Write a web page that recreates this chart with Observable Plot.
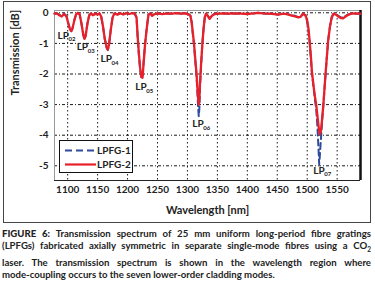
<!DOCTYPE html>
<html><head><meta charset="utf-8">
<script src="https://cdn.jsdelivr.net/npm/d3@7"></script>
<script src="https://cdn.jsdelivr.net/npm/@observablehq/plot@0.6"></script>
<style>
body{margin:0;background:#fff;width:375px;height:281px;overflow:hidden;position:relative;font-family:Lato,sans-serif;color:#222}
#frame{position:absolute;left:3px;top:1px;width:366px;height:220px;border:1px solid #444;}
#chart{position:absolute;left:0;top:0}
#legend{position:absolute;left:59px;top:140px;width:72px;height:31px;border:1px solid #111;background:#fff;font-size:10px;font-weight:700}
#caption{position:absolute;left:2px;top:228px;width:369px;font-size:9.6px;line-height:12.4px;font-weight:700;color:#222}
.j{text-align:justify;text-align-last:justify;white-space:nowrap}
.l{white-space:nowrap}
</style></head>
<body>
<div id="frame"></div>
<div id="chart"></div>
<div id="legend"></div>
<div id="caption">
<div class="j"><b style="font-weight:900">FIGURE 6:</b> Transmission spectrum of 25 mm uniform long-period fibre gratings</div>
<div class="j">(LPFGs) fabricated axially symmetric in separate single-mode fibres using a CO<sub style="font-size:6.5px">2</sub></div>
<div class="j">laser. The transmission spectrum is shown in the wavelength region where</div>
<div class="l">mode-coupling occurs to the seven lower-order cladding modes.</div>
</div>
<script>
const wavelength = [1078,1082,1086,1090,1094,1098,1101,1104,1106,1108,1111,1114,1117,1120,1123,1126,1128,1130,1133,1136,1139,1142,1146,1150,1153,1156,1159,1162,1165,1167,1169,1172,1175,1178,1183,1188,1193,1198,1203,1208,1212,1215,1217,1219,1221,1223,1225,1227,1229,1231,1233,1235,1238,1241,1244,1250,1258,1266,1274,1282,1290,1297,1302,1305,1307,1309,1311,1313,1315,1317,1318,1319,1320,1321,1323,1325,1327,1329,1331,1334,1337,1340,1344,1350,1360,1370,1380,1390,1400,1410,1418,1426,1435,1445,1452,1460,1468,1474,1480,1485,1489,1493,1497,1500,1502,1504,1506,1508,1511,1513,1515,1517,1519,1520,1521,1523,1525,1527,1529,1531,1533,1535,1538,1541,1544,1548,1552,1556,1560,1564,1568,1574,1580,1585,1589];
const lpfg2 = [-0.03,-0.02,-0.08,-0.12,-0.04,-0.12,-0.35,-0.55,-0.6,-0.52,-0.25,-0.05,0,-0.05,-0.35,-0.7,-0.85,-0.75,-0.35,-0.08,-0.02,-0.08,-0.03,-0.06,-0.02,-0.12,-0.45,-0.85,-1.12,-1.2,-1.05,-0.55,-0.15,-0.02,-0.06,-0.02,-0.05,-0.01,-0.04,-0.01,-0.03,-0.15,-0.8,-1.35,-1.8,-2.1,-2.12,-1.6,-1.1,-0.7,-0.35,-0.06,-0.02,-0.1,-0.05,-0.02,-0.04,-0.02,-0.03,-0.01,-0.03,-0.02,-0.05,-0.1,-0.3,-0.65,-1.0,-1.5,-1.95,-2.55,-2.85,-3.0,-2.8,-2.3,-1.6,-1.0,-0.5,-0.15,-0.03,-0.1,-0.2,-0.12,-0.05,-0.03,-0.02,-0.03,-0.02,-0.03,-0.04,-0.02,0,-0.02,-0.03,-0.04,-0.06,-0.03,-0.05,-0.09,-0.12,-0.15,-0.13,-0.03,-0.08,-0.25,-0.5,-0.9,-1.4,-1.95,-2.45,-2.75,-3.0,-3.35,-3.7,-3.85,-3.97,-3.85,-3.45,-3.0,-2.45,-1.9,-1.4,-0.9,-0.45,-0.15,-0.03,-0.06,-0.12,-0.17,-0.18,-0.12,-0.07,-0.03,-0.02,-0.03,-0.03];
const lpfg1 = [-0.02,-0.02,-0.06,-0.1,-0.03,-0.1,-0.33,-0.55,-0.6,-0.5,-0.25,-0.05,-0.01,-0.05,-0.35,-0.72,-0.88,-0.75,-0.35,-0.08,-0.02,-0.08,-0.03,-0.05,-0.02,-0.12,-0.45,-0.87,-1.15,-1.22,-1.05,-0.55,-0.15,-0.02,-0.05,-0.02,-0.05,-0.01,-0.04,-0.01,-0.03,-0.15,-0.85,-1.4,-1.85,-2.12,-2.1,-1.55,-1.05,-0.68,-0.35,-0.06,-0.02,-0.08,-0.05,-0.02,-0.04,-0.02,-0.03,-0.01,-0.03,-0.02,-0.05,-0.1,-0.3,-0.7,-1.05,-1.55,-2.0,-2.75,-3.15,-3.38,-3.1,-2.45,-1.65,-1.0,-0.5,-0.15,-0.03,-0.1,-0.18,-0.12,-0.05,-0.03,-0.02,-0.03,-0.02,-0.03,-0.04,-0.02,0,-0.02,-0.03,-0.04,-0.06,-0.03,-0.05,-0.08,-0.1,-0.14,-0.12,-0.03,-0.08,-0.3,-0.55,-0.95,-1.45,-2.0,-2.5,-2.85,-3.15,-3.7,-4.5,-4.95,-4.7,-4.1,-3.5,-3.0,-2.45,-1.9,-1.4,-0.9,-0.45,-0.13,-0.03,-0.05,-0.1,-0.15,-0.16,-0.1,-0.06,-0.03,-0.02,-0.03,-0.03];
const xTicks = [1100,1150,1200,1250,1300,1350,1400,1450,1500,1550];
const yTicks = [0,-1,-2,-3,-4,-5];
const modeNames = ["02","03","04","05","06","07"];
const modeLabelX = [1083,1115,1155,1213,1308,1510];
const modeLabelY = [-0.74,-1.12,-1.51,-2.42,-3.63,-5.15];
const seriesNames = ["LPFG-1","LPFG-2"];
const seriesColors = ["#2f4b9b","#e8202a"];

const d1 = wavelength.map((w,i)=>({w, v:lpfg1[i]}));
const d2 = wavelength.map((w,i)=>({w, v:lpfg2[i]}));
const modes = modeNames.map((n,i)=>({n, x:modeLabelX[i], y:modeLabelY[i]}));
const xDom = [1078,1589], yDom = [-5.48,0.075];

const plot = Plot.plot({
  width:375, height:224,
  marginLeft:54, marginRight:15, marginTop:10, marginBottom:44,
  style:{fontFamily:"Lato, sans-serif", background:"transparent", color:"#222"},
  x:{domain:xDom},
  y:{domain:yDom},
  marks:[
    Plot.gridX(xTicks,{stroke:"#000", strokeOpacity:0.9, strokeDasharray:"1.5,2.5"}),
    Plot.gridY(yTicks,{stroke:"#000", strokeOpacity:0.9, strokeDasharray:"3,2,1,2"}),
    Plot.ruleY([yDom[1]],{stroke:"#999"}),
    Plot.ruleX([xDom[0]],{stroke:"#999"}),
    Plot.ruleY([yDom[0]],{stroke:"#222"}),
    Plot.ruleX([xDom[1]],{stroke:"#111", strokeWidth:2.5}),
    Plot.lineY(d1,{x:"w", y:"v", stroke:seriesColors[0], strokeWidth:2, strokeDasharray:"6,4"}),
    Plot.lineY(d2,{x:"w", y:"v", stroke:seriesColors[1], strokeWidth:2.3}),
    Plot.text(modes,{x:"x", y:"y", text:()=>"LP", textAnchor:"start", fontSize:10, fontWeight:"bold", fill:"#222"}),
    Plot.text(modes,{x:"x", y:"y", text:"n", textAnchor:"start", dx:11, dy:4, fontSize:6, fontWeight:"bold", fill:"#222"}),
    Plot.axisX(xTicks,{tickSize:0, tickPadding:5, fontSize:10, fontWeight:"bold", label:null, tickFormat:d=>String(d)}),
    Plot.axisY(yTicks,{tickSize:0, tickPadding:6, fontSize:10, fontWeight:"bold", label:null, tickFormat:d=>d===0?"0":"-"+Math.abs(d)}),
    Plot.text(["Wavelength [nm]"],{frameAnchor:"bottom", dy:33, fontSize:11, fontWeight:"bold", fill:"#222"}),
    Plot.text(["Transmission [dB]"],{frameAnchor:"left", dx:-39, rotate:-90, fontSize:11, fontWeight:"bold", fill:"#222"})
  ]
});
document.getElementById("chart").appendChild(plot);

const lg = d3.select("#legend").append("svg").attr("width",72).attr("height",31);
seriesNames.forEach((s,i)=>{
  const y = 9.5 + i*14;
  lg.append("line").attr("x1",5).attr("x2",36).attr("y1",y).attr("y2",y)
    .attr("stroke",seriesColors[i]).attr("stroke-width",2.2)
    .attr("stroke-dasharray", i===0?"7,4":null);
  lg.append("text").attr("x",37).attr("y",y).attr("dy","0.35em")
    .attr("font-size",10).attr("font-weight","bold").attr("fill","#222").text(s);
});
</script>
</body></html>
